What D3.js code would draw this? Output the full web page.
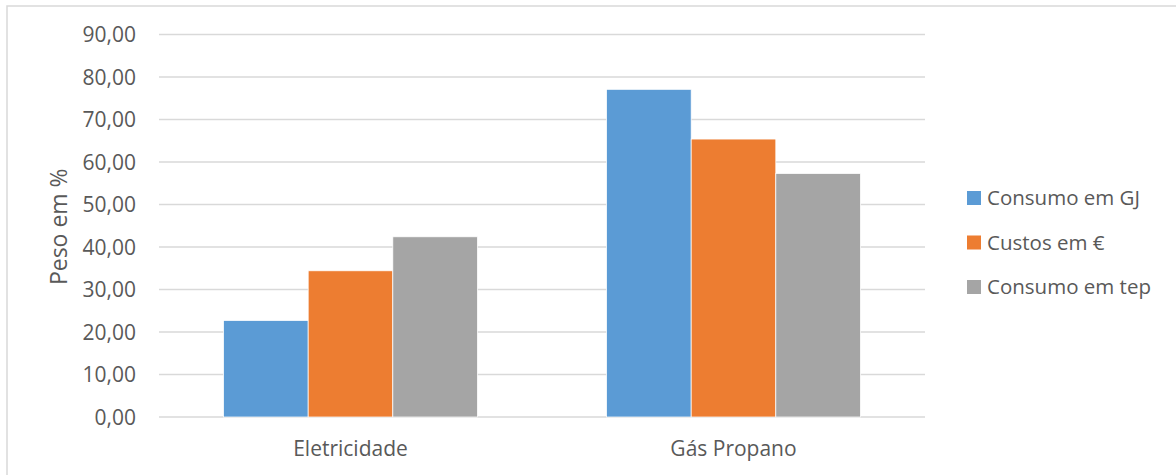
<!DOCTYPE html>
<html>
<head>
<meta charset="utf-8">
<script src="https://cdn.jsdelivr.net/npm/d3@7"></script>
<style>
  html, body { margin: 0; padding: 0; background: #fff; }
  svg { display: block; }
  text { font-family: "Open Sans", "Noto Sans", sans-serif; fill: #595959; }
</style>
</head>
<body>
<svg id="chart" width="1176" height="475"></svg>
<script>
// Energy sources and their share (%) under each metric
const categories = ["Eletricidade", "Gás Propano"];
const seriesNames = ["Consumo em GJ", "Custos em €", "Consumo em tep"];
const consumoGJ = [22.7, 77.1];
const custosEur = [34.4, 65.4];
const consumoTep = [42.4, 57.3];
const yTicks = [0, 10, 20, 30, 40, 50, 60, 70, 80, 90];
const seriesColors = ["#5B9BD5", "#ED7D31", "#A5A5A5"];

const seriesValues = [consumoGJ, custosEur, consumoTep];

const svg = d3.select("#chart");

// Chart area outline
svg.append("rect")
  .attr("x", 7).attr("y", 6)
  .attr("width", 1190).attr("height", 490)
  .attr("fill", "none")
  .attr("stroke", "#d9d9d9")
  .attr("stroke-width", 1.5);

const plot = { left: 159, right: 925, top: 34.5, bottom: 417 };

const y = d3.scaleLinear().domain([0, 90]).range([plot.bottom, plot.top]);
const x0 = d3.scaleBand().domain(categories).range([plot.left, plot.right]);
const gap = x0.bandwidth() * 0.337 / 2;
const x1 = d3.scaleBand().domain(seriesNames).range([gap, x0.bandwidth() - gap]);

// Horizontal gridlines
svg.append("g")
  .selectAll("line")
  .data(yTicks)
  .join("line")
  .attr("x1", plot.left).attr("x2", plot.right)
  .attr("y1", d => y(d)).attr("y2", d => y(d))
  .attr("stroke", "#d9d9d9")
  .attr("stroke-width", 1.5);

// Y axis tick labels
const yAxis = d3.axisLeft(y)
  .tickValues(yTicks)
  .tickSize(0)
  .tickPadding(0)
  .tickFormat(d => d3.format(".2f")(d).replace(".", ","));
const gy = svg.append("g")
  .attr("transform", `translate(${plot.left - 23},0)`)
  .call(yAxis);
gy.select(".domain").remove();
gy.selectAll("text")
  .attr("font-size", 21)
  .attr("font-family", "'Open Sans', sans-serif")
  .attr("fill", "#595959")
  .attr("dy", "0.35em");

// Bars
const groups = svg.append("g")
  .selectAll("g")
  .data(categories)
  .join("g")
  .attr("transform", d => `translate(${x0(d)},0)`);

groups.selectAll("rect")
  .data((d, i) => seriesNames.map((s, j) => ({ s, j, v: seriesValues[j][i] })))
  .join("rect")
  .attr("x", d => x1(d.s))
  .attr("width", x1.bandwidth())
  .attr("y", d => y(d.v))
  .attr("height", d => y(0) - y(d.v))
  .attr("fill", d => seriesColors[d.j])
  .attr("stroke", "#fff")
  .attr("stroke-width", 0.75);

// Category labels
const xAxis = d3.axisBottom(x0).tickSize(0).tickPadding(0);
const gx = svg.append("g")
  .attr("transform", `translate(0,${plot.bottom + 32})`)
  .call(xAxis);
gx.select(".domain").remove();
gx.selectAll("text")
  .attr("font-size", 21)
  .attr("font-family", "'Open Sans', sans-serif")
  .attr("fill", "#595959")
  .attr("dy", "0.35em");

// Y axis title
svg.append("text")
  .attr("transform", `translate(58,${(plot.top + plot.bottom) / 2 + 1}) rotate(-90)`)
  .attr("text-anchor", "middle")
  .attr("dominant-baseline", "central")
  .attr("font-size", 23)
  .text("Peso em %");

// Legend
const legend = svg.append("g")
  .selectAll("g")
  .data(seriesNames)
  .join("g")
  .attr("transform", (d, i) => `translate(967,${198 + i * 44.5})`);
legend.append("rect")
  .attr("x", 0).attr("y", -7)
  .attr("width", 14).attr("height", 14)
  .attr("fill", (d, i) => seriesColors[i]);
legend.append("text")
  .attr("x", 20)
  .attr("dy", "0.35em")
  .attr("font-size", 20.5)
  .text(d => d);
</script>
</body>
</html>
